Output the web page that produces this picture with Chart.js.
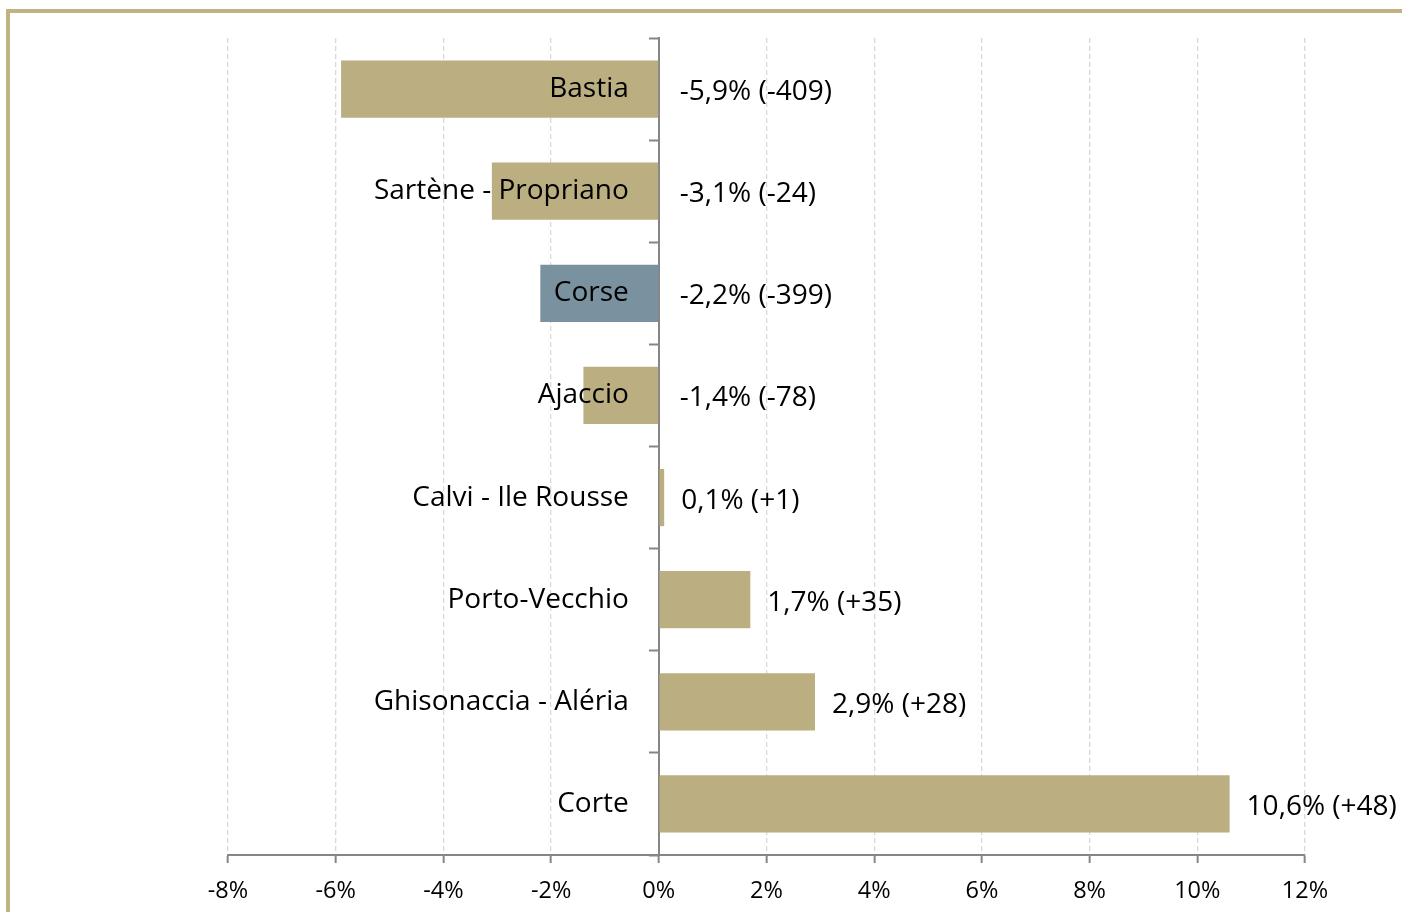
<!DOCTYPE html>
<html>
<head>
<meta charset="utf-8">
<script src="https://cdn.jsdelivr.net/npm/chart.js@4.4.0/dist/chart.umd.min.js"></script>
<style>
  html, body { margin: 0; padding: 0; background: #fff; }
  #wrap { position: relative; width: 1402px; height: 912px; }
</style>
</head>
<body>
<div id="wrap"><canvas id="c" width="1402" height="912"></canvas></div>
<script>
const categories = ["Bastia", "Sartène - Propriano", "Corse", "Ajaccio", "Calvi - Ile Rousse", "Porto-Vecchio", "Ghisonaccia - Aléria", "Corte"];
const values = [-5.9, -3.1, -2.2, -1.4, 0.1, 1.7, 2.9, 10.6];
const valueLabels = ["-5,9% (-409)", "-3,1% (-24)", "-2,2% (-399)", "-1,4% (-78)", "0,1% (+1)", "1,7% (+35)", "2,9% (+28)", "10,6% (+48)"];
const xTicks = [-8, -6, -4, -2, 0, 2, 4, 6, 8, 10, 12];

const TAN = "#BBAE80";
const BLUE = "#7A919F";
const FONT = "'Open Sans', Lato, sans-serif";

const framePlugin = {
  id: "frame",
  beforeDraw(chart) {
    const ctx = chart.ctx;
    ctx.save();
    ctx.fillStyle = "#C0B282";
    ctx.fillRect(6, 9, chart.width, 4);
    ctx.fillRect(6, 9, 4, chart.height);
    ctx.restore();
  }
};

const labelPlugin = {
  id: "labels",
  afterDatasetsDraw(chart) {
    const ctx = chart.ctx;
    const xs = chart.scales.x, ys = chart.scales.y;
    const zero = xs.getPixelForValue(0);
    ctx.save();
    ctx.font = "28px " + FONT;
    ctx.fillStyle = "#000";
    ctx.textBaseline = "middle";
    categories.forEach((c, i) => {
      const y = ys.getPixelForValue(i);
      ctx.textAlign = "right";
      ctx.fillText(c, zero - 30, y);
      const xe = xs.getPixelForValue(Math.max(0, values[i]));
      ctx.textAlign = "left";
      ctx.fillText(valueLabels[i], xe + (values[i] > 0 ? 17 : 21), y + 3);
    });
    ctx.restore();
  }
};

new Chart(document.getElementById("c"), {
  type: "bar",
  data: {
    labels: categories,
    datasets: [{
      data: values,
      backgroundColor: categories.map(c => c === "Corse" ? BLUE : TAN),
      barPercentage: 0.56,
      categoryPercentage: 1.0,
      borderWidth: 0
    }]
  },
  options: {
    indexAxis: "y",
    responsive: false,
    animation: false,
    layout: { padding: { left: 228, right: 97, top: 38, bottom: 0 } },
    plugins: { legend: { display: false }, tooltip: { enabled: false } },
    scales: {
      x: {
        type: "linear",
        min: -8, max: 12,
        afterBuildTicks(scale) { scale.ticks = xTicks.map(v => ({ value: v })); },
        afterFit(scale) { scale.height = 57; },
        ticks: {
          callback: v => v + "%",
          font: { family: FONT, size: 23.5 },
          color: "#000",
          padding: 14,
          maxRotation: 0
        },
        grid: {
          color: "#D9D9D9",
          lineWidth: 1.3,
          tickLength: 8,
          tickColor: "#868686",
          tickWidth: 2,
          drawOnChartArea: true
        },
        border: { display: true, color: "#868686", width: 2, dash: [5, 3] }
      },
      y: {
        type: "category",
        position: { x: 0 },
        ticks: { display: false },
        grid: {
          offset: true,
          drawOnChartArea: false,
          drawTicks: true,
          tickLength: 9,
          tickColor: "#868686",
          tickWidth: 2
        },
        border: { display: true, color: "#868686", width: 2 }
      }
    }
  },
  plugins: [framePlugin, labelPlugin]
});
</script>
</body>
</html>
